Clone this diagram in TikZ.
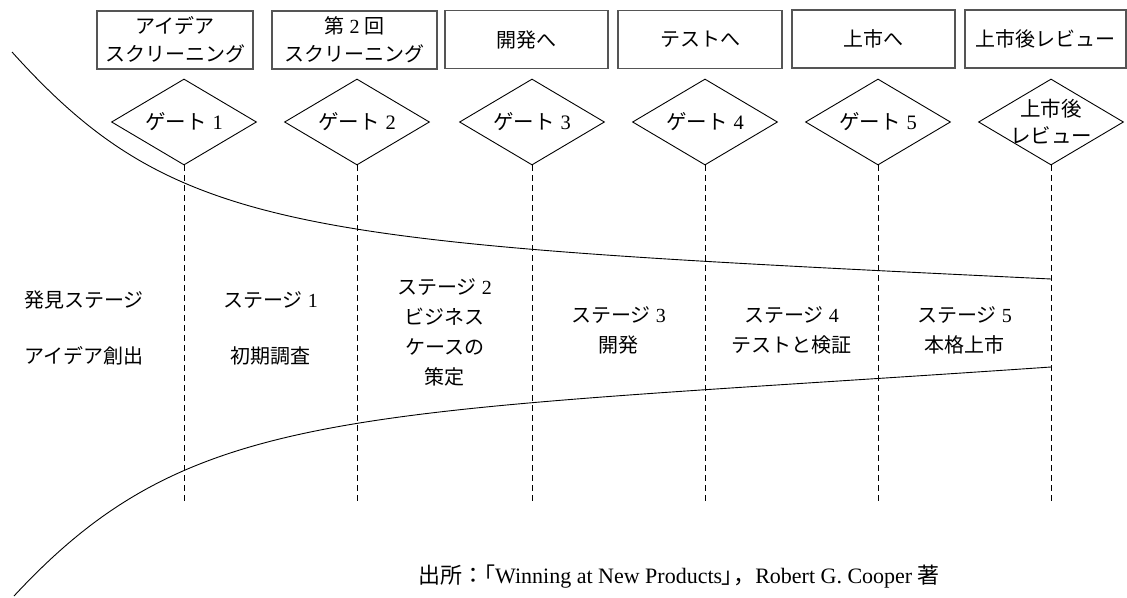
\documentclass[tikz,border=0pt]{standalone}
\usepackage{fontspec}
\setmainfont{Liberation Serif}
\newfontfamily\jp{Noto Sans CJK JP}
\newfontfamily\jpp[RawFeature=+palt]{Noto Sans CJK JP}
\usetikzlibrary{shapes.geometric}
\definecolor{boxgray}{HTML}{555555}
\newcommand\dg[1]{{\rmfamily #1}}
\begin{document}
\begin{tikzpicture}[x=1pt,y=-1pt,
  topbox/.style={draw=boxgray, line width=1.3pt, minimum height=58pt, inner sep=0pt,
    align=center, font=\jp\fontsize{20}{28}\selectfont},
  gate/.style={draw, diamond, minimum width=145pt, minimum height=86pt, inner sep=0pt,
    line width=0.9pt, font=\jp\fontsize{20}{27}\selectfont},
  gatelabel/.style={align=center, inner sep=0pt, font=\jp\fontsize{20.5}{27}\selectfont},
  stagetext/.style={align=center, inner sep=0pt, font=\jp\fontsize{20}{30}\selectfont},
  widetext/.style={align=center, inner sep=0pt, font=\jp\fontsize{20}{56}\selectfont},
  gateline/.style={line width=0.9pt, dash pattern=on 6pt off 4pt},
  funnel/.style={line width=0.9pt},
]
\useasboundingbox (0,0) rectangle (1127,597);

% top boxes
\node[topbox, minimum width=156pt] (b1) at (175,40) {アイデア\\スクリーニング};
\node[topbox, minimum width=165pt] (b2) at (354.5,40) {第\hspace{0.25em}\dg{2}\hspace{0.25em}回\\スクリーニング};
\node[topbox, minimum width=163pt] (b3) at (526.5,39.5) {開発へ};
\node[topbox, minimum width=164pt] (b4) at (700,39.5) {テストへ};
\node[topbox, minimum width=163pt] (b5) at (873.5,39) {上市へ};
\node[topbox, minimum width=161pt] (b6) at (1045.5,39) {上市後レビュー};

% gates
\node[gate, label={[gatelabel]center:ゲート\hspace{0.3em}\dg{1}}] (g1) at (184,122) {};
\node[gate, label={[gatelabel]center:ゲート\hspace{0.3em}\dg{2}}] (g2) at (357,122) {};
\node[gate, label={[gatelabel]center:ゲート\hspace{0.3em}\dg{3}}] (g3) at (532,122) {};
\node[gate, label={[gatelabel]center:ゲート\hspace{0.3em}\dg{4}}] (g4) at (705,122) {};
\node[gate, label={[gatelabel]center:ゲート\hspace{0.3em}\dg{5}}] (g5) at (878,122) {};
\node[gate, label={[gatelabel]center:上市後\\レビュー}] (g6) at (1051,122) {};

% dashed gate lines
\coordinate (e1) at (184,503);
\coordinate (e2) at (357,503);
\coordinate (e3) at (532,503);
\coordinate (e4) at (705,503);
\coordinate (e5) at (878,503);
\coordinate (e6) at (1051,503);
\draw[gateline] (g1.south) -- (e1);
\draw[gateline] (g2.south) -- (e2);
\draw[gateline] (g3.south) -- (e3);
\draw[gateline] (g4.south) -- (e4);
\draw[gateline] (g5.south) -- (e5);
\draw[gateline] (g6.south) -- (e6);

% funnel curves
\coordinate (ts) at (12,52);
\coordinate (te) at (1051,279);
\coordinate (bs) at (14,596);
\coordinate (be) at (1051,367);
\draw[funnel] (ts) .. controls (178,236) and (300,243) .. (te);
\draw[funnel] (bs) .. controls (194,402) and (351,415) .. (be);

% stage texts
\node[widetext] (s0) at (84,328) {発見ステージ\\アイデア創出};
\node[widetext] (s1) at (270.5,328) {ステージ\hspace{0.25em}\dg{1}\\初期調査};
\node[stagetext] (s2) at (444.5,332) {ステージ\hspace{0.25em}\dg{2}\\ビジネス\\ケースの\\策定};
\node[stagetext] (s3) at (618.5,330) {ステージ\hspace{0.25em}\dg{3}\\開発};
\node[stagetext] (s4) at (791.5,330) {ステージ\hspace{0.25em}\dg{4}\\テストと検証};
\node[stagetext] (s5) at (964.5,330) {ステージ\hspace{0.25em}\dg{5}\\本格上市};

% source
\node[inner sep=0pt, font=\fontsize{22}{25}\selectfont] (src) at (679,577)
  {{\jp 出所：}{\jpp 「}Winning at New Products{\jpp 」}{\jp ，}Robert G. Cooper {\jp 著}};
\end{tikzpicture}
\end{document}
